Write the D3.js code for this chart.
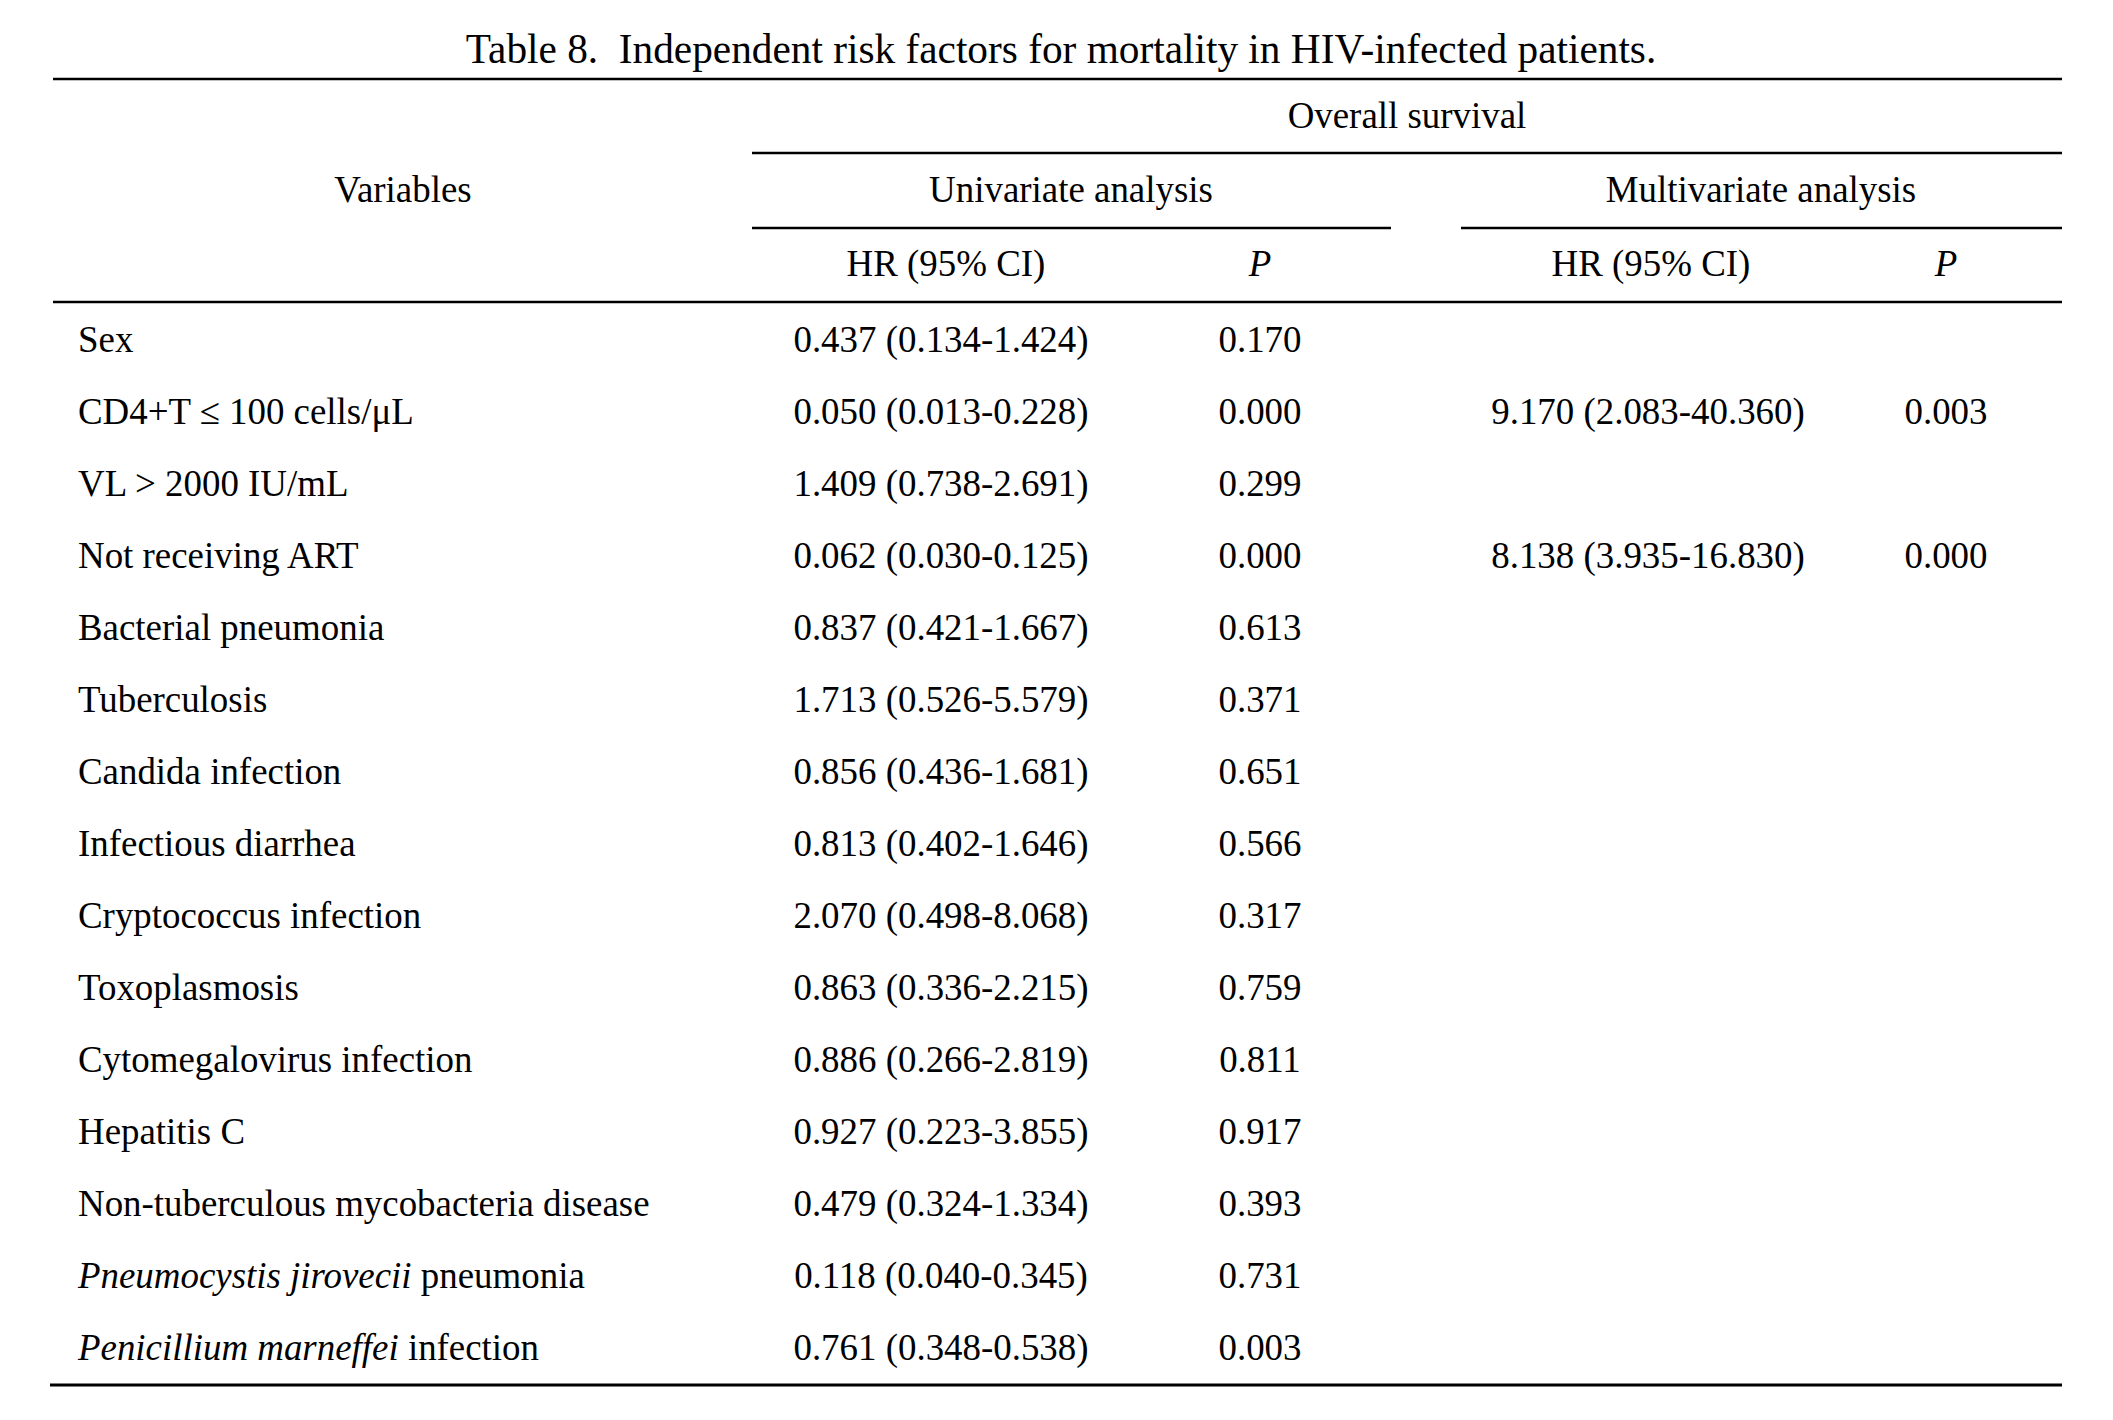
<!DOCTYPE html>
<html>
<head>
<meta charset="utf-8">
<script src="https://cdn.jsdelivr.net/npm/d3@7"></script>
<style>
    html, body { margin: 0; padding: 0; background: #fff; }
    svg text { font-family: "Liberation Serif", "Times New Roman", serif; fill: #000; }
</style>
</head>
<body>
<div id="table-chart"></div>
<script>
var title = "Table 8.  Independent risk factors for mortality in HIV-infected patients.";

// row labels: [italic part, plain part]
var variables = [
    ["", "Sex"],
    ["", "CD4+T \u2264 100 cells/\u03bcL"],
    ["", "VL > 2000 IU/mL"],
    ["", "Not receiving ART"],
    ["", "Bacterial pneumonia"],
    ["", "Tuberculosis"],
    ["", "Candida infection"],
    ["", "Infectious diarrhea"],
    ["", "Cryptococcus infection"],
    ["", "Toxoplasmosis"],
    ["", "Cytomegalovirus infection"],
    ["", "Hepatitis C"],
    ["", "Non-tuberculous mycobacteria disease"],
    ["Pneumocystis jirovecii", " pneumonia"],
    ["Penicillium marneffei", " infection"]
];

var uni_hr = ["0.437 (0.134-1.424)", "0.050 (0.013-0.228)", "1.409 (0.738-2.691)", "0.062 (0.030-0.125)",
    "0.837 (0.421-1.667)", "1.713 (0.526-5.579)", "0.856 (0.436-1.681)", "0.813 (0.402-1.646)",
    "2.070 (0.498-8.068)", "0.863 (0.336-2.215)", "0.886 (0.266-2.819)", "0.927 (0.223-3.855)",
    "0.479 (0.324-1.334)", "0.118 (0.040-0.345)", "0.761 (0.348-0.538)"];
var uni_p = ["0.170", "0.000", "0.299", "0.000", "0.613", "0.371", "0.651", "0.566",
    "0.317", "0.759", "0.811", "0.917", "0.393", "0.731", "0.003"];
var multi_hr = ["", "9.170 (2.083-40.360)", "", "8.138 (3.935-16.830)", "", "", "", "", "", "", "", "", "", "", ""];
var multi_p = ["", "0.003", "", "0.000", "", "", "", "", "", "", "", "", "", "", ""];

var col_keys = ["label", "uni_hr", "uni_p", "multi_hr", "multi_p"];

var width = 2113,
    height = 1420,
    font_size = 36.9,
    row_h = 72.0,
    first_base = 352;

var svg = d3.select("#table-chart").append("svg")
    .attr("width", width)
    .attr("height", height);

var tableLeft = 53, tableRight = 2062;

// column centres
var xCol = d3.scaleOrdinal()
    .domain(col_keys)
    .range([78, 941, 1260, 1648, 1946]);

var yRow = d3.scaleLinear()
    .domain([0, variables.length - 1])
    .range([first_base, first_base + row_h * (variables.length - 1)]);

// title
svg.append("text")
    .attr("x", 1061)
    .attr("y", 63)
    .attr("text-anchor", "middle")
    .style("font-size", "41.3px")
    .style("white-space", "pre")
    .attr("xml:space", "preserve")
    .text(title);

// rules
var rules = [
    {x1: tableLeft, x2: tableRight, y: 79, w: 2.6},
    {x1: 752, x2: tableRight, y: 153, w: 2.4},
    {x1: 752, x2: 1391, y: 228, w: 2.4},
    {x1: 1461, x2: tableRight, y: 228, w: 2.4},
    {x1: tableLeft, x2: tableRight, y: 302, w: 2.6},
    {x1: 50, x2: tableRight, y: 1385, w: 3}
];
svg.selectAll(".rule")
    .data(rules)
    .enter()
    .append("line")
        .attr("class", "rule")
        .attr("x1", function(d) { return d.x1; })
        .attr("x2", function(d) { return d.x2; })
        .attr("y1", function(d) { return d.y; })
        .attr("y2", function(d) { return d.y; })
        .style("stroke", "#000")
        .style("stroke-width", function(d) { return d.w; });

// header texts
var headers = [
    {t: "Overall survival", x: 1407, y: 128, it: false},
    {t: "Variables", x: 403, y: 202, it: false},
    {t: "Univariate analysis", x: 1071, y: 202, it: false},
    {t: "Multivariate analysis", x: 1761, y: 202, it: false},
    {t: "HR (95% CI)", x: 946, y: 276, it: false},
    {t: "P", x: xCol("uni_p"), y: 276, it: true},
    {t: "HR (95% CI)", x: 1651, y: 276, it: false},
    {t: "P", x: xCol("multi_p"), y: 276, it: true}
];
svg.selectAll(".header")
    .data(headers)
    .enter()
    .append("text")
        .attr("class", "header")
        .attr("x", function(d) { return d.x; })
        .attr("y", function(d) { return d.y; })
        .attr("text-anchor", "middle")
        .style("font-size", font_size + "px")
        .style("font-style", function(d) { return d.it ? "italic" : "normal"; })
        .text(function(d) { return d.t; });

// body rows
var rows = svg.selectAll(".row")
    .data(variables)
    .enter()
    .append("g")
        .attr("class", "row")
        .attr("transform", function(d, i) { return "translate(0," + yRow(i) + ")"; });

var label = rows.append("text")
    .attr("x", xCol("label"))
    .style("font-size", font_size + "px");
label.append("tspan")
    .style("font-style", "italic")
    .text(function(d) { return d[0]; });
label.append("tspan")
    .attr("xml:space", "preserve")
    .style("white-space", "pre")
    .text(function(d) { return d[1]; });

var cols = [["uni_hr", uni_hr], ["uni_p", uni_p], ["multi_hr", multi_hr], ["multi_p", multi_p]];
cols.forEach(function(c) {
    rows.append("text")
        .attr("x", xCol(c[0]))
        .attr("text-anchor", "middle")
        .style("font-size", font_size + "px")
        .text(function(d, i) { return c[1][i]; });
});
</script>
</body>
</html>
